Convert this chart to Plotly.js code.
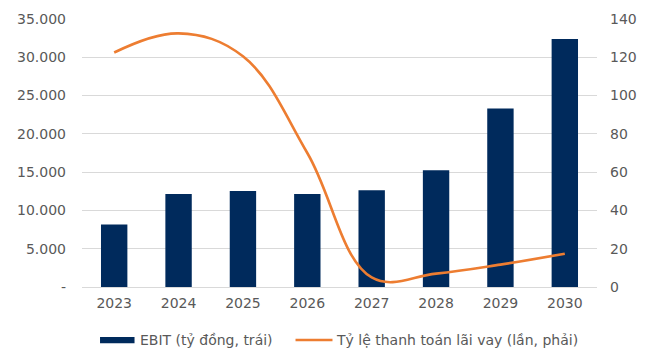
<!DOCTYPE html>
<html>
<head>
<meta charset="utf-8">
<script src="https://cdn.plot.ly/plotly-3.0.1.min.js"></script>
<style>
  html, body { margin: 0; padding: 0; background: #fff; }
  #chart { width: 653px; height: 349px; }
</style>
</head>
<body>
<div id="chart"></div>
<script>
// Years on the category axis
const years = ['2023', '2024', '2025', '2026', '2027', '2028', '2029', '2030'];
// EBIT, billion VND (left axis)
const ebit = [8150, 12150, 12550, 12150, 12650, 15250, 23300, 32400];
// Interest coverage ratio, times (right axis)
const coverage = [122.5, 132.5, 120.5, 70, 5, 7, 11.7, 17.4];

// Left axis ticks: thousands with a dot separator, zero shown as a dash
const leftTickVals = [0, 5000, 10000, 15000, 20000, 25000, 30000, 35000];
const leftTickText = ['-', '5.000', '10.000', '15.000', '20.000', '25.000', '30.000', '35.000'];
const rightTickVals = [0, 20, 40, 60, 80, 100, 120, 140];

const seriesNames = ['EBIT (tỷ đồng, trái)', 'Tỷ lệ thanh toán lãi vay (lần, phải)'];

const navy = '#002A5C';
const orange = '#ED7D31';
const textColor = '#595959';
const font = { family: 'DejaVu Sans, Verdana, sans-serif', size: 14, color: textColor };

const traces = [
  {
    type: 'bar',
    x: years,
    y: ebit,
    name: seriesNames[0],
    marker: { color: navy },
    width: 0.41,
    yaxis: 'y',
    showlegend: false,
    hoverinfo: 'skip'
  },
  {
    type: 'scatter',
    mode: 'lines',
    x: years,
    y: coverage,
    name: seriesNames[1],
    line: { color: orange, width: 2.6, shape: 'spline', smoothing: 1.1 },
    yaxis: 'y2',
    showlegend: false,
    hoverinfo: 'skip'
  }
];

// Legend drawn below the plot: symbols as shapes, labels as annotations
const legY = -0.198;
const shapes = [
  { type: 'rect', xref: 'paper', yref: 'paper', x0: 0.035, x1: 0.102, y0: legY - 0.0115, y1: legY + 0.0115,
    fillcolor: navy, line: { width: 0 } },
  { type: 'line', xref: 'paper', yref: 'paper', x0: 0.4146, x1: 0.4864, y0: legY, y1: legY,
    line: { color: orange, width: 2.6 } }
];
const annotations = [
  { xref: 'paper', yref: 'paper', x: 0.1087, y: legY, xanchor: 'left', yanchor: 'middle',
    text: seriesNames[0], showarrow: false, font: font },
  { xref: 'paper', yref: 'paper', x: 0.4893, y: legY, xanchor: 'left', yanchor: 'middle',
    text: seriesNames[1], showarrow: false, font: font }
];

const layout = {
  width: 653,
  height: 349,
  margin: { l: 82, r: 56, t: 19, b: 62 },
  paper_bgcolor: '#fff',
  plot_bgcolor: '#fff',
  font: font,
  showlegend: false,
  xaxis: {
    type: 'category',
    showgrid: false,
    zeroline: false,
    showline: false,
    ticks: '',
    ticklabelstandoff: 6,
    tickfont: font
  },
  yaxis: {
    range: [0, 35000],
    tickvals: leftTickVals,
    ticktext: leftTickText,
    showgrid: true,
    gridcolor: '#D9D9D9',
    gridwidth: 1,
    zeroline: true,
    zerolinecolor: '#D9D9D9',
    zerolinewidth: 1,
    showline: false,
    ticks: '',
    ticklabelstandoff: 15,
    tickfont: font
  },
  yaxis2: {
    overlaying: 'y',
    side: 'right',
    range: [0, 140],
    tickvals: rightTickVals,
    showgrid: false,
    zeroline: false,
    showline: false,
    ticks: '',
    ticklabelstandoff: 12,
    tickfont: font
  },
  shapes: shapes,
  annotations: annotations
};

Plotly.newPlot('chart', traces, layout, { staticPlot: true, displayModeBar: false });
</script>
</body>
</html>
